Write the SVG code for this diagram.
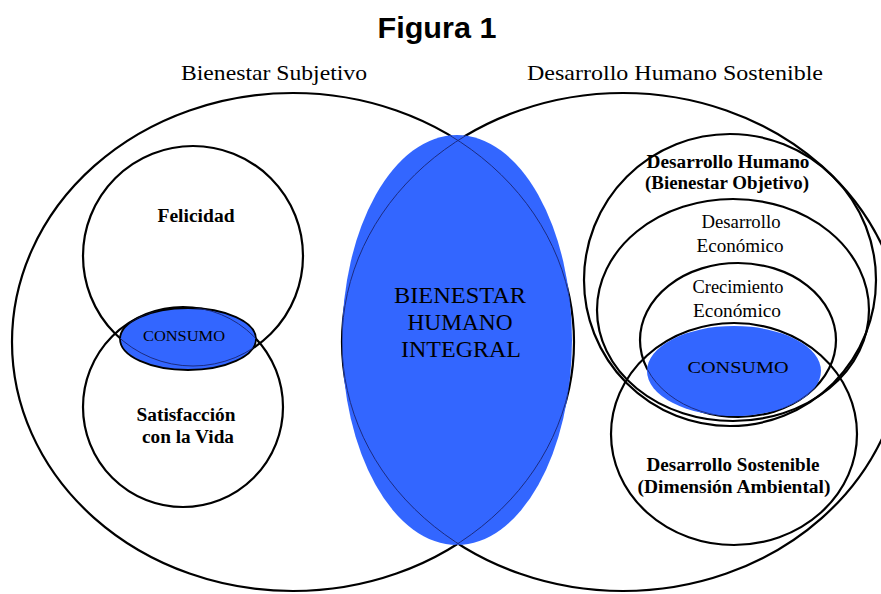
<svg xmlns="http://www.w3.org/2000/svg" width="881" height="594" viewBox="0 0 881 594">
<style>
.ln{fill:none;stroke:#000;stroke-width:2.2}
.thin{fill:none;stroke:#1c2c80;stroke-width:1}
.blue{fill:#3366FF}
.t{font-family:"Liberation Serif","Times New Roman",serif;fill:#000;text-anchor:middle}
.b{font-weight:bold}
</style>
<defs>
<clipPath id="cpCenter"><ellipse cx="457" cy="340" rx="115" ry="205"/></clipPath>
<clipPath id="cpL"><ellipse cx="188" cy="339" rx="68" ry="31"/></clipPath>
<clipPath id="cpR"><ellipse cx="734" cy="371" rx="87" ry="45"/></clipPath>
</defs>
<rect width="881" height="594" fill="#fff"/>
<text x="437" y="38" font-family="Liberation Sans, Arial, sans-serif" font-weight="bold" font-size="30" text-anchor="middle" textLength="119" lengthAdjust="spacingAndGlyphs">Figura 1</text>

<g id="bienestar-subjetivo">
<ellipse class="ln" cx="293" cy="342" rx="281" ry="249"/>
<text class="t" x="274" y="80" font-size="22" textLength="186" lengthAdjust="spacingAndGlyphs">Bienestar Subjetivo</text>
</g>
<g id="desarrollo-humano-sostenible">
<ellipse class="ln" cx="623" cy="342" rx="281" ry="249"/>
<text class="t" x="675" y="80" font-size="22" textLength="296" lengthAdjust="spacingAndGlyphs">Desarrollo Humano Sostenible</text>
</g>

<g id="bienestar-humano-integral">
<ellipse class="blue" cx="457" cy="340" rx="115" ry="205"/>
<g clip-path="url(#cpCenter)">
<ellipse class="thin" cx="293" cy="342" rx="281" ry="249"/>
<ellipse class="thin" cx="623" cy="342" rx="281" ry="249"/>
</g>
<text class="t" x="460" y="303" font-size="23" textLength="132" lengthAdjust="spacingAndGlyphs">BIENESTAR</text>
<text class="t" x="460" y="330" font-size="23" textLength="105" lengthAdjust="spacingAndGlyphs">HUMANO</text>
<text class="t" x="461" y="357" font-size="23" textLength="120" lengthAdjust="spacingAndGlyphs">INTEGRAL</text>
</g>

<g id="felicidad">
<circle class="ln" cx="193" cy="256" r="110"/>
<text class="t b" x="196" y="222" font-size="18" textLength="77" lengthAdjust="spacingAndGlyphs">Felicidad</text>
</g>
<g id="satisfaccion">
<circle class="ln" cx="183" cy="407" r="100"/>
<text class="t b" x="186" y="421" font-size="18" textLength="99" lengthAdjust="spacingAndGlyphs">Satisfacción</text>
<text class="t b" x="188" y="443" font-size="18" textLength="92" lengthAdjust="spacingAndGlyphs">con la Vida</text>
</g>
<g id="consumo-izq">
<ellipse class="blue" cx="188" cy="339" rx="68" ry="31" stroke="#000" stroke-width="1.8"/>
<g clip-path="url(#cpL)">
<circle class="thin" cx="193" cy="256" r="110"/>
<circle class="thin" cx="183" cy="407" r="100"/>
</g>
<text class="t" x="184" y="341" font-size="15" textLength="82" lengthAdjust="spacingAndGlyphs">CONSUMO</text>
</g>

<g id="desarrollo-humano">
<circle class="ln" cx="730" cy="280" r="146"/>
<text class="t b" x="728" y="168" font-size="18" textLength="163" lengthAdjust="spacingAndGlyphs">Desarrollo Humano</text>
<text class="t b" x="727" y="189" font-size="18" textLength="164" lengthAdjust="spacingAndGlyphs">(Bienestar Objetivo)</text>
</g>
<g id="desarrollo-economico">
<ellipse class="ln" cx="733" cy="310" rx="136" ry="111"/>
<text class="t" x="741" y="228" font-size="18" textLength="79" lengthAdjust="spacingAndGlyphs">Desarrollo</text>
<text class="t" x="740" y="252" font-size="18" textLength="87" lengthAdjust="spacingAndGlyphs">Económico</text>
</g>
<g id="crecimiento-economico">
<ellipse class="ln" cx="738" cy="340" rx="98" ry="77"/>
<text class="t" x="738" y="293" font-size="18" textLength="91" lengthAdjust="spacingAndGlyphs">Crecimiento</text>
<text class="t" x="737" y="317" font-size="18" textLength="88" lengthAdjust="spacingAndGlyphs">Económico</text>
</g>
<g id="desarrollo-sostenible">
<ellipse class="ln" cx="734" cy="434" rx="123" ry="111"/>
<text class="t b" x="733" y="471" font-size="18" textLength="173" lengthAdjust="spacingAndGlyphs">Desarrollo Sostenible</text>
<text class="t b" x="734" y="493" font-size="18" textLength="193" lengthAdjust="spacingAndGlyphs">(Dimensión Ambiental)</text>
</g>
<g id="consumo-der">
<ellipse class="blue" cx="734" cy="371" rx="87" ry="45"/>
<g clip-path="url(#cpR)">
<ellipse class="thin" cx="734" cy="434" rx="123" ry="111"/>
<ellipse class="thin" cx="738" cy="340" rx="98" ry="77"/>
</g>
<text class="t" x="738" y="373" font-size="16" textLength="101" lengthAdjust="spacingAndGlyphs">CONSUMO</text>
</g>
</svg>
